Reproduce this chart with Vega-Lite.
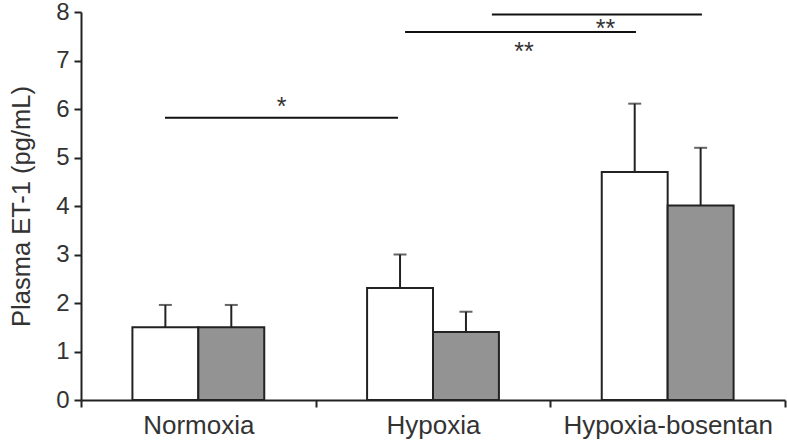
{
  "$schema": "https://vega.github.io/schema/vega-lite/v6.json",
  "width": 704,
  "height": 388,
  "autosize": "none",
  "padding": {"left": 81, "top": 12, "right": 2, "bottom": 40},
  "background": "white",
  "config": {
    "view": {"stroke": null},
    "font": "Liberation Sans",
    "axis": {"grid": false},
    "axisY": {
      "values": [0, 1, 2, 3, 4, 5, 6, 7, 8],
      "format": "d",
      "tickSize": 7,
      "tickWidth": 2,
      "tickColor": "#222",
      "domainColor": "#222",
      "domainWidth": 2,
      "labelFontSize": 24,
      "labelColor": "#333",
      "labelPadding": 5,
      "titleFontSize": 25.5,
      "titleFontWeight": "normal",
      "titleColor": "#333",
      "titlePadding": 21
    }
  },
  "datasets": {
    "bars": [
      {"group": "Normoxia", "series": "s1", "value": 1.5, "upper": 1.96},
      {"group": "Normoxia", "series": "s2", "value": 1.5, "upper": 1.96},
      {"group": "Hypoxia", "series": "s1", "value": 2.31, "upper": 3.0},
      {"group": "Hypoxia", "series": "s2", "value": 1.4, "upper": 1.82},
      {"group": "Hypoxia-bosentan", "series": "s1", "value": 4.7, "upper": 6.11},
      {"group": "Hypoxia-bosentan", "series": "s2", "value": 4.01, "upper": 5.2}
    ],
    "sig": [
      {"x1": 0.358, "x2": 1.351, "y": 5.82},
      {"x1": 1.381, "x2": 2.365, "y": 7.59},
      {"x1": 1.751, "x2": 2.646, "y": 7.95}
    ],
    "stars": [
      {"x": 0.855, "y": 5.88, "label": "*"},
      {"x": 1.888, "y": 7.02, "label": "**"},
      {"x": 2.235, "y": 7.49, "label": "**"}
    ]
  },
  "layer": [
    {
      "data": {"name": "bars"},
      "encoding": {
        "x": {
          "field": "group",
          "type": "nominal",
          "sort": ["Normoxia", "Hypoxia", "Hypoxia-bosentan"],
          "scale": {"paddingInner": 0, "paddingOuter": 0},
          "axis": {
            "title": null,
            "labelAngle": 0,
            "labelLimit": 400,
            "tickBand": "extent",
            "tickSize": 7,
            "tickWidth": 2,
            "tickColor": "#222",
            "domainColor": "#222",
            "domainWidth": 2,
            "labelFontSize": 26,
            "labelPadding": 5,
            "labelColor": "#333"
          }
        },
        "xOffset": {
          "field": "series",
          "type": "nominal",
          "sort": ["s1", "s2"],
          "scale": {"paddingInner": 0, "paddingOuter": 0.78}
        }
      },
      "layer": [
        {
          "mark": {"type": "bar", "stroke": "#222", "strokeWidth": 2},
          "encoding": {
            "y": {
              "field": "value",
              "type": "quantitative",
              "title": "Plasma ET-1 (pg/mL)",
              "scale": {"domain": [0, 8], "nice": false}
            },
            "fill": {
              "field": "series",
              "type": "nominal",
              "scale": {"domain": ["s1", "s2"], "range": ["#ffffff", "#939393"]},
              "legend": null
            }
          }
        },
        {
          "mark": {"type": "rule", "color": "#222", "strokeWidth": 2},
          "encoding": {
            "y": {"field": "value", "type": "quantitative", "title": "Plasma ET-1 (pg/mL)"},
            "y2": {"field": "upper"}
          }
        },
        {
          "mark": {"type": "tick", "orient": "horizontal", "size": 13, "thickness": 2, "color": "#222"},
          "encoding": {
            "y": {"field": "upper", "type": "quantitative", "title": "Plasma ET-1 (pg/mL)"}
          }
        }
      ]
    },
    {
      "data": {"name": "sig"},
      "mark": {"type": "rule", "color": "#111", "strokeWidth": 2},
      "encoding": {
        "x": {"field": "x1", "type": "quantitative", "scale": {"domain": [0, 3], "nice": false, "zero": false}, "axis": null},
        "x2": {"field": "x2"},
        "y": {"field": "y", "type": "quantitative", "title": "Plasma ET-1 (pg/mL)"}
      }
    },
    {
      "data": {"name": "stars"},
      "mark": {"type": "text", "fontSize": 25, "color": "#333", "baseline": "alphabetic", "align": "center"},
      "encoding": {
        "x": {"field": "x", "type": "quantitative", "scale": {"domain": [0, 3], "nice": false, "zero": false}, "axis": null},
        "y": {"field": "y", "type": "quantitative", "title": "Plasma ET-1 (pg/mL)"},
        "text": {"field": "label"}
      }
    }
  ],
  "resolve": {"scale": {"x": "independent"}}
}
